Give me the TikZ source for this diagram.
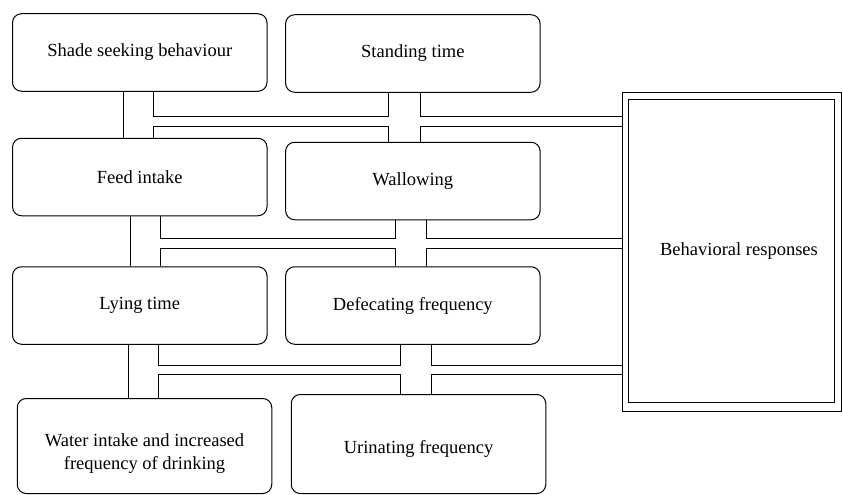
\documentclass[tikz,border=0pt]{standalone}
\usepackage{fontspec}
\setmainfont{Liberation Serif}
\begin{document}
\begin{tikzpicture}[
    x=1pt, y=-1pt,
    every node/.style={font=\fontsize{18.5}{23}\selectfont},
    factor/.style={draw, line width=1pt, rounded corners=9pt, align=center, inner sep=0pt,
        minimum width=254.5pt, minimum height=77.5pt},
    pipe/.style={draw, line width=1pt}
]
\useasboundingbox (0,0) rectangle (843,495);
% Left column
\node[factor] (shade) at (139.75,52.5) {Shade seeking behaviour};
\node[factor] (feed) at (139.75,177) {Feed intake};
\node[factor] (lying) at (139.75,305.5) {Lying time};
\node[factor, minimum height=95pt] (water) at (144.5,446) {};
\node[align=center] (watertext) at (144.5,454) {Water intake and increased\\frequency of drinking};
% Middle column
\node[factor] (stand) at (412.85,53.5) {Standing time};
\node[factor] (wallow) at (412.85,181) {Wallowing};
\node[factor] (defec) at (412.85,305.5) {Defecating frequency};
\node[factor, minimum height=99pt, text height=22pt] (urin) at (418.5,444) {Urinating frequency};
% Behavioral responses (double frame)
\node[draw, line width=1pt, minimum width=219pt, minimum height=319pt] (frame) at (731.5,251.5) {};
\draw[line width=1pt] ([shift={(7,8)}]frame.north west) rectangle ([shift={(-7,-9)}]frame.south east);
\node (resp) at (739,251) {Behavioral responses};
% Row 1 pipes
\draw[pipe] (123.5,0 |- shade.south) -- (123.5,0 |- feed.north);
\draw[pipe] (153.5,0 |- shade.south) |- (388.3,116.5) -- (388.3,0 |- stand.south);
\draw[pipe] (153.5,0 |- feed.north) |- (388.3,126.5) -- (388.3,0 |- wallow.north);
\draw[pipe] (420,0 |- stand.south) |- (frame.west |- 0,116.5);
\draw[pipe] (420,0 |- wallow.north) |- (frame.west |- 0,126.5);
% Row 2 pipes
\draw[pipe] (130,0 |- feed.south) -- (130,0 |- lying.north);
\draw[pipe] (160,0 |- feed.south) |- (395.5,238.5) -- (395.5,0 |- wallow.south);
\draw[pipe] (160,0 |- lying.north) |- (395.5,248) -- (395.5,0 |- defec.north);
\draw[pipe] (426,0 |- wallow.south) |- (frame.west |- 0,238.5);
\draw[pipe] (426,0 |- defec.north) |- (frame.west |- 0,248);
% Row 3 pipes
\draw[pipe] (128,0 |- lying.south) -- (128,0 |- water.north);
\draw[pipe] (158.3,0 |- lying.south) |- (400.8,365) -- (400.8,0 |- defec.south);
\draw[pipe] (158.3,0 |- water.north) |- (400.8,374) -- (400.8,0 |- urin.north);
\draw[pipe] (431.7,0 |- defec.south) |- (frame.west |- 0,365);
\draw[pipe] (431.7,0 |- urin.north) |- (frame.west |- 0,374);
\end{tikzpicture}
\end{document}
